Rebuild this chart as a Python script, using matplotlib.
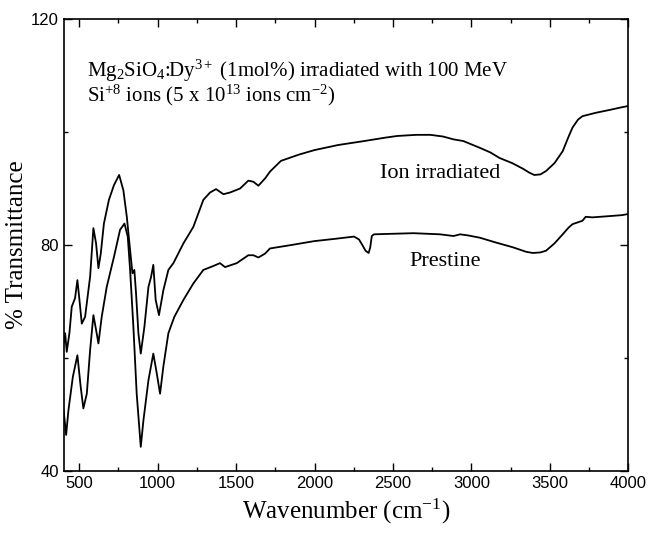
import matplotlib
matplotlib.use('Agg')
import matplotlib.pyplot as plt
from matplotlib.ticker import MultipleLocator

plt.rcParams['mathtext.fontset'] = 'custom'
plt.rcParams['mathtext.rm'] = 'Liberation Serif'
plt.rcParams['mathtext.it'] = 'Liberation Serif:italic'

# wavenumber (cm-1) vs % transmittance
ion_wn = [400, 410, 420, 437, 452, 473, 488, 501, 516, 537, 569, 590, 607, 622, 637,
          657, 689, 721, 754, 781, 803, 824, 839, 851, 862, 877, 892, 915, 941, 958,
          972, 987, 1008, 1036, 1068, 1100, 1164, 1227, 1291, 1334, 1372, 1419, 1461,
          1525, 1578, 1610, 1642, 1685, 1716, 1786, 1900, 1999, 2150, 2316, 2450,
          2527, 2650, 2738, 2820, 2886, 2949, 3054, 3120, 3180, 3260, 3329, 3370,
          3401, 3440, 3476, 3530, 3582, 3620, 3645, 3680, 3708, 3793, 3880, 3962, 4000]
ion_t = [62.5, 64.4, 61.1, 64.4, 69.1, 70.6, 73.8, 70.3, 66.1, 67.3, 74.4, 83.0, 80.3, 75.9, 78.5,
         83.8, 88.0, 90.6, 92.4, 89.7, 85.0, 79.1, 75.0, 75.6, 71.4, 64.4, 60.8, 65.5, 72.6, 74.4,
         76.5, 70.3, 67.6, 72.0, 75.6, 76.8, 80.3, 83.2, 88.0, 89.3, 89.9, 89.0, 89.3,
         90.0, 91.4, 91.2, 90.5, 91.8, 93.0, 94.9, 96.0, 96.8, 97.7, 98.4, 99.0,
         99.3, 99.5, 99.5, 99.2, 98.7, 98.4, 97.2, 96.4, 95.4, 94.5, 93.5, 92.8,
         92.4, 92.5, 93.1, 94.5, 96.6, 99.2, 100.8, 102.2, 102.8, 103.4, 103.9, 104.4, 104.6]

pre_wn = [400, 416, 431, 459, 488, 509, 526, 548, 569, 590, 607, 622, 643, 675, 721,
          760, 788, 809, 824, 845, 866, 892, 909, 941, 972, 994, 1015, 1036, 1068, 1106,
          1164, 1227, 1291, 1355, 1397, 1429, 1504, 1578, 1610, 1642, 1685, 1716, 1850,
          1999, 2130, 2252, 2283, 2305, 2325, 2345, 2355, 2365, 2379, 2500, 2632, 2800,
          2886, 2928, 2980, 3054, 3150, 3265, 3350, 3392, 3440, 3476, 3530, 3582, 3620,
          3645, 3708, 3729, 3771, 3870, 3962, 4000]
pre_t = [50.8, 46.4, 50.8, 56.7, 60.5, 54.9, 51.1, 53.7, 61.4, 67.6, 65.0, 62.6, 67.3, 72.6, 77.9,
         82.7, 83.8, 81.5, 75.6, 65.5, 53.7, 44.3, 49.0, 56.1, 60.8, 57.3, 53.7, 58.5, 64.4, 67.3,
         70.3, 73.2, 75.6, 76.3, 76.8, 76.1, 76.8, 78.2, 78.2, 77.8, 78.5, 79.4, 80.0,
         80.7, 81.1, 81.5, 81.0, 80.0, 79.0, 78.6, 79.6, 81.6, 81.9, 82.0, 82.1, 81.9,
         81.6, 81.9, 81.7, 81.3, 80.5, 79.6, 78.8, 78.6, 78.7, 79.0, 80.3, 81.9, 83.1,
         83.7, 84.3, 85.0, 84.9, 85.1, 85.3, 85.5]

fig = plt.figure(figsize=(6.49, 5.36), dpi=100)
ax = fig.add_axes([0.098, 0.121, 0.87, 0.8436])

ax.plot(ion_wn, ion_t, color='black', lw=1.3)
ax.plot(pre_wn, pre_t, color='black', lw=1.3)

ax.set_xlim(400, 4000)
ax.set_ylim(40, 120)
ax.xaxis.set_major_locator(MultipleLocator(500))
ax.xaxis.set_minor_locator(MultipleLocator(250))
ax.yaxis.set_major_locator(MultipleLocator(40))
ax.yaxis.set_minor_locator(MultipleLocator(20))
ax.tick_params(which='both', direction='in', top=True, right=True, width=1.0)
ax.tick_params(which='major', length=6)
ax.tick_params(which='minor', length=3)
for lab in ax.get_xticklabels() + ax.get_yticklabels():
    lab.set_fontfamily('Liberation Sans')
    lab.set_fontsize(12)
for s in ax.spines.values():
    s.set_linewidth(1.2)

serif = 'Liberation Serif'
ax.set_xlabel('Wavenumber (cm$^{-1}$)', fontsize=18, family=serif)
ax.set_ylabel('% Transmittance', fontsize=18, family=serif, labelpad=2)

ax.text(546, 109.7, r'Mg$_2$SiO$_4$:Dy$^{3+}$ (1mol%) irradiated with 100 MeV',
        fontsize=15, family=serif)
ax.text(546, 105.5, r'Si$^{+8}$ ions (5 x 10$^{13}$ ions cm$^{-2}$)',
        fontsize=15, family=serif)
ax.text(2420, 91.8, 'Ion irradiated', fontsize=16, family=serif)
ax.text(2603, 76.3, 'Prestine', fontsize=16, family=serif)

fig.savefig('out.png', dpi=100)
